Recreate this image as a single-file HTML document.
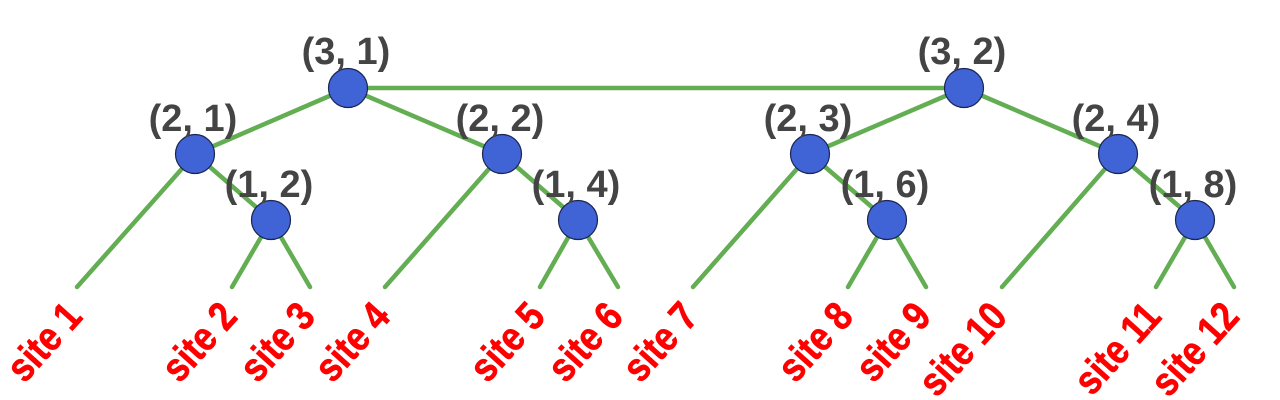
<!DOCTYPE html>
<html><head><meta charset="utf-8"><style>
html,body{margin:0;padding:0;background:#fff;overflow:hidden;}
svg{display:block;}
.n{fill:#4063d6;stroke:#1a2550;stroke-width:1.2;}
.l{stroke:#63ad52;stroke-width:4.5;fill:none;stroke-linecap:round;}
.t{font-family:"Liberation Sans",Arial,sans-serif;font-weight:bold;font-size:38px;fill:#444;text-anchor:middle;}
.s{font-family:"Liberation Sans",Arial,sans-serif;font-weight:bold;font-size:37px;fill:#f00;text-anchor:end;stroke:#f00;stroke-width:0.6;}
</style></head><body>
<svg width="1280" height="400" viewBox="0 0 1280 400">
<g class="l">
<line x1="348" y1="88" x2="964" y2="88"/>
<line x1="348" y1="88" x2="195" y2="154"/>
<line x1="348" y1="88" x2="502" y2="154"/>
<line x1="964" y1="88" x2="810" y2="154"/>
<line x1="964" y1="88" x2="1118" y2="154"/>
<line x1="195" y1="154" x2="77" y2="287"/>
<line x1="195" y1="154" x2="271" y2="220"/>
<line x1="271" y1="220" x2="232" y2="287"/>
<line x1="271" y1="220" x2="310" y2="287"/>
<line x1="502" y1="154" x2="385" y2="287"/>
<line x1="502" y1="154" x2="578" y2="220"/>
<line x1="578" y1="220" x2="540" y2="287"/>
<line x1="578" y1="220" x2="618" y2="287"/>
<line x1="810" y1="154" x2="693" y2="287"/>
<line x1="810" y1="154" x2="887" y2="220"/>
<line x1="887" y1="220" x2="848" y2="287"/>
<line x1="887" y1="220" x2="926" y2="287"/>
<line x1="1118" y1="154" x2="1002" y2="287"/>
<line x1="1118" y1="154" x2="1195" y2="220"/>
<line x1="1195" y1="220" x2="1156" y2="287"/>
<line x1="1195" y1="220" x2="1234" y2="287"/>
</g>
<g>
<circle class="n" cx="348" cy="88" r="19.5"/>
<circle class="n" cx="964" cy="88" r="19.5"/>
<circle class="n" cx="195" cy="154" r="19.5"/>
<circle class="n" cx="502" cy="154" r="19.5"/>
<circle class="n" cx="810" cy="154" r="19.5"/>
<circle class="n" cx="1118" cy="154" r="19.5"/>
<circle class="n" cx="271" cy="220" r="19.5"/>
<circle class="n" cx="578" cy="220" r="19.5"/>
<circle class="n" cx="887" cy="220" r="19.5"/>
<circle class="n" cx="1195" cy="220" r="19.5"/>
</g>
<g class="t">
<text x="346" y="64">(3, 1)</text>
<text x="962" y="64">(3, 2)</text>
<text x="193" y="131">(2, 1)</text>
<text x="500" y="131">(2, 2)</text>
<text x="808" y="131">(2, 3)</text>
<text x="1116" y="131">(2, 4)</text>
<text x="269" y="197">(1, 2)</text>
<text x="576" y="197">(1, 4)</text>
<text x="885" y="197">(1, 6)</text>
<text x="1193" y="197">(1, 8)</text>
</g>
<g class="s">
<text transform="translate(84,318) rotate(-48) scale(0.94,1.1)">site 1</text>
<text transform="translate(239,318) rotate(-48) scale(0.94,1.1)">site 2</text>
<text transform="translate(317,318) rotate(-48) scale(0.94,1.1)">site 3</text>
<text transform="translate(392,318) rotate(-48) scale(0.94,1.1)">site 4</text>
<text transform="translate(547,318) rotate(-48) scale(0.94,1.1)">site 5</text>
<text transform="translate(625,318) rotate(-48) scale(0.94,1.1)">site 6</text>
<text transform="translate(700,318) rotate(-48) scale(0.94,1.1)">site 7</text>
<text transform="translate(855,318) rotate(-48) scale(0.94,1.1)">site 8</text>
<text transform="translate(933,318) rotate(-48) scale(0.94,1.1)">site 9</text>
<text transform="translate(1009,318) rotate(-48) scale(0.94,1.1)">site 10</text>
<text transform="translate(1163,318) rotate(-48) scale(0.94,1.1)">site 11</text>
<text transform="translate(1241,318) rotate(-48) scale(0.94,1.1)">site 12</text>
</g>
</svg>
</body></html>
